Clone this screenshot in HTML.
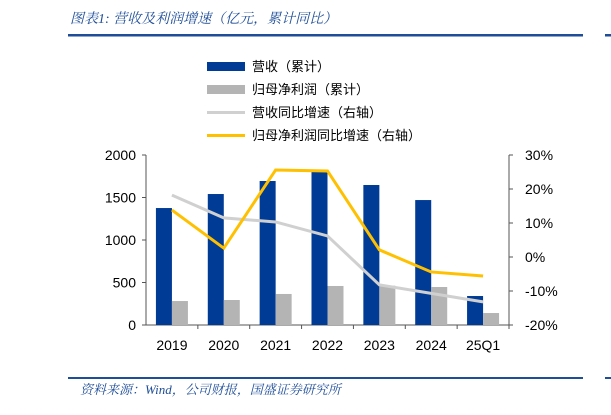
<!DOCTYPE html>
<html><head><meta charset="utf-8"><style>
body{margin:0;width:611px;height:410px;background:#fff;overflow:hidden;font-family:"Liberation Sans","Noto Sans CJK SC",sans-serif}
</style></head><body>
<svg width="611" height="410" xmlns="http://www.w3.org/2000/svg">
<text x="70" y="23" font-size="14" font-style="italic" fill="#1f4e99" font-family="Liberation Serif,Noto Serif CJK SC,serif">图表1:  营收及利润增速（亿元，累计同比）</text>
<rect x="68" y="34" width="515" height="2.5" fill="#1f4e99"/>
<rect x="605" y="34" width="6" height="2.5" fill="#1f4e99"/>
<g id="legend" font-size="13" fill="#000">
<rect x="207" y="62" width="38" height="9" fill="#003b95"/><text x="252" y="71">营收（累计）</text>
<rect x="207" y="85" width="38" height="9" fill="#b4b4b4"/><text x="252" y="94">归母净利润（累计）</text>
<rect x="207" y="111" width="38" height="3" fill="#d0d0d0"/><text x="252" y="117">营收同比增速（右轴）</text>
<rect x="207" y="134" width="38" height="3" fill="#ffc000"/><text x="252" y="140">归母净利润同比增速（右轴）</text>
</g>
<g id="plot"></g>
<rect x="68" y="377" width="515" height="2" fill="#1f4e99"/>
<rect x="605" y="377" width="6" height="2" fill="#1f4e99"/>
<text x="80" y="394" font-size="13" font-style="italic" fill="#1f4e99" font-family="Liberation Serif,Noto Serif CJK SC,serif">资料来源：Wind，公司财报，国盛证券研究所</text>
</svg>
<script>
const categories=["2019","2020","2021","2022","2023","2024","25Q1"];
const revenue=[1376,1541,1694,1800,1647,1470,341];
const profit=[282,294,365,459,462,447,141];
const revenueGrowth=[18.2,11.5,10.3,6.2,-8.2,-10.7,-13.2];
const profitGrowth=[13.8,2.6,25.6,25.3,2.1,-4.4,-5.6];
const leftTicks=[0,500,1000,1500,2000];
const rightTicks=[-20,-10,0,10,20,30];
const NS="http://www.w3.org/2000/svg";
const g=document.getElementById('plot');
const X0=146,X1=509,YT=155,YB=325;
const step=(X1-X0)/categories.length;
const xc=i=>X0+step*(i+0.5);
const yL=v=>YB-(v-0)/2000*(YB-YT);
const yR=v=>YB-(v+20)/50*(YB-YT);
function mk(t,a){const e=document.createElementNS(NS,t);for(const k in a)e.setAttribute(k,a[k]);g.appendChild(e);return e;}
let e;
e=mk('line',{x1:X0,y1:YT,x2:X0,y2:YB,stroke:'#555'});


e=mk('line',{x1:X1,y1:YT,x2:X1,y2:YB,stroke:'#555'});


e=mk('line',{x1:X0,y1:YB,x2:X1,y2:YB,stroke:'#555'});


leftTicks.forEach(v=>{const y=yL(v);mk('line',{x1:X0-4,y1:y,x2:X0,y2:y,stroke:'#555'});
e=mk('text',{x:X0-10,y:y+5,'text-anchor':'end','font-size':14});e.textContent=v;

});
rightTicks.forEach(v=>{const y=yR(v);mk('line',{x1:X1,y1:y,x2:X1+4,y2:y,stroke:'#555'});
e=mk('text',{x:X1+16,y:y+5,'font-size':14});e.textContent=v+'%';

});
categories.forEach((c,i)=>{
mk('line',{x1:X0+step*(i+1),y1:YB,x2:X0+step*(i+1),y2:YB+4,stroke:'#555'});
e=mk('text',{x:xc(i),y:YB+25,'text-anchor':'middle','font-size':14});e.textContent=c;


e=mk('rect',{x:xc(i)-16,y:yL(revenue[i]),width:16,height:YB-yL(revenue[i]),fill:'#003b95'});


e=mk('rect',{x:xc(i),y:yL(profit[i]),width:16,height:YB-yL(profit[i]),fill:'#b4b4b4'});


});
e=mk('polyline',{points:revenueGrowth.map((v,i)=>xc(i)+','+yR(v)).join(' '),fill:'none',stroke:'#d0d0d0','stroke-width':3});


e=mk('polyline',{points:profitGrowth.map((v,i)=>xc(i)+','+yR(v)).join(' '),fill:'none',stroke:'#ffc000','stroke-width':3});


</script>
</body></html>
